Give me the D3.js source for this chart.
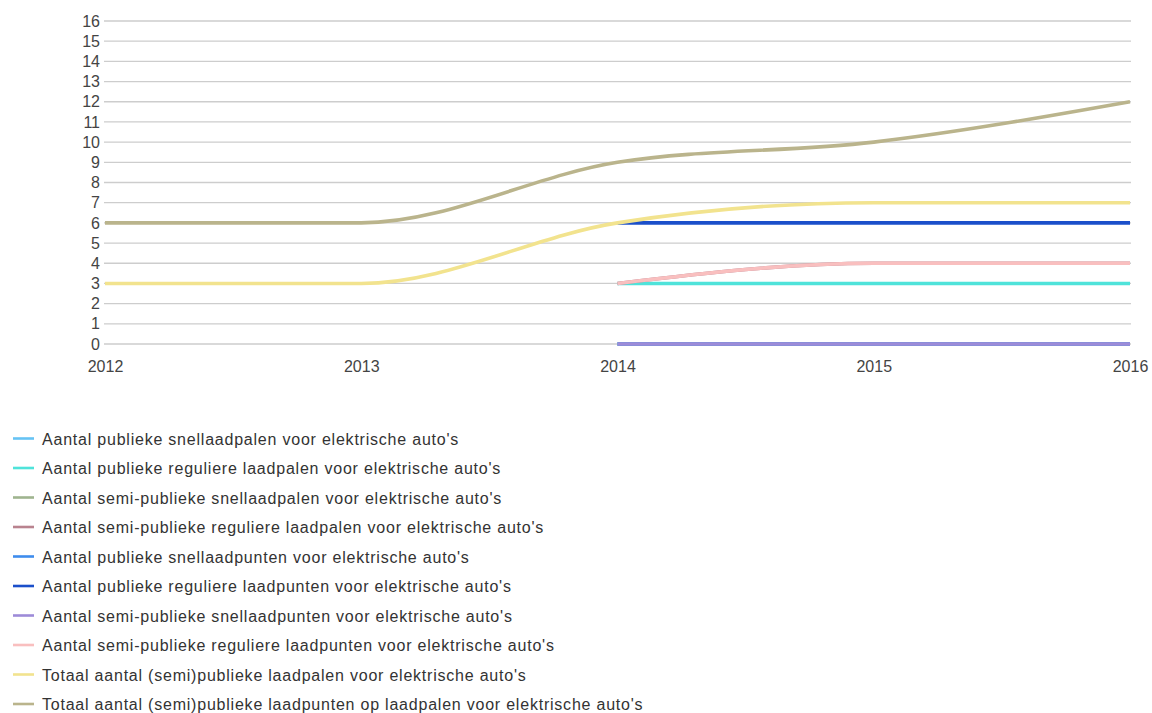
<!DOCTYPE html>
<html>
<head>
<meta charset="utf-8">
<script src="https://cdn.jsdelivr.net/npm/d3@7"></script>
<style>
  html, body { margin: 0; padding: 0; background: #ffffff; }
  svg text { font-family: "Liberation Sans", Arial, sans-serif; }
</style>
</head>
<body>
<svg id="chart" width="1152" height="713"></svg>
<script>
// Jaren op de x-as
const years = [2012, 2013, 2014, 2015, 2016];

// Reeksnamen (legenda)
const seriesNames = [
  "Aantal publieke snellaadpalen voor elektrische auto's",
  "Aantal publieke reguliere laadpalen voor elektrische auto's",
  "Aantal semi-publieke snellaadpalen voor elektrische auto's",
  "Aantal semi-publieke reguliere laadpalen voor elektrische auto's",
  "Aantal publieke snellaadpunten voor elektrische auto's",
  "Aantal publieke reguliere laadpunten voor elektrische auto's",
  "Aantal semi-publieke snellaadpunten voor elektrische auto's",
  "Aantal semi-publieke reguliere laadpunten voor elektrische auto's",
  "Totaal aantal (semi)publieke laadpalen voor elektrische auto's",
  "Totaal aantal (semi)publieke laadpunten op laadpalen voor elektrische auto's"
];

// Waarden per reeks (null = geen gegevens)
const publiekeSnellaadpalen          = [null, null, 0, 0, 0];
const publiekeReguliereLaadpalen     = [null, null, 3, 3, 3];
const semiPubliekeSnellaadpalen      = [null, null, 0, 0, 0];
const semiPubliekeReguliereLaadpalen = [null, null, 3, 4, 4];
const publiekeSnellaadpunten         = [null, null, 0, 0, 0];
const publiekeReguliereLaadpunten    = [null, null, 6, 6, 6];
const semiPubliekeSnellaadpunten     = [null, null, 0, 0, 0];
const semiPubliekeReguliereLaadpunten= [null, null, 3, 4, 4];
const totaalLaadpalen                = [3, 3, 6, 7, 7];
const totaalLaadpunten               = [6, 6, 9, 10, 12];

// Y-as ticks
const yTicks = [0,1,2,3,4,5,6,7,8,9,10,11,12,13,14,15,16];

const seriesValues = [
  publiekeSnellaadpalen, publiekeReguliereLaadpalen, semiPubliekeSnellaadpalen,
  semiPubliekeReguliereLaadpalen, publiekeSnellaadpunten, publiekeReguliereLaadpunten,
  semiPubliekeSnellaadpunten, semiPubliekeReguliereLaadpunten, totaalLaadpalen, totaalLaadpunten
];

const colors = [
  "#66c3f4", "#4fe3da", "#9fb48f", "#b9838f", "#3e8ced",
  "#1b4fca", "#9d8bd8", "#f9bfbf", "#f2e38e", "#bab48c"
];

const svg = d3.select("#chart");

const plot = { left: 105, right: 1130, top: 21, bottom: 344 };

const x = d3.scaleLinear().domain([2012, 2016]).range([plot.left, plot.right]);
const y = d3.scaleLinear().domain([0, 16]).range([plot.bottom, plot.top]);

// Rasterlijnen
svg.append("g")
  .selectAll("line")
  .data(yTicks)
  .join("line")
  .attr("x1", plot.left - 1)
  .attr("x2", plot.right + 1)
  .attr("y1", d => y(d))
  .attr("y2", d => y(d))
  .attr("stroke", "#cdcdcd")
  .attr("stroke-width", 1.3);

// Y-as labels
const yAxis = d3.axisLeft(y).tickValues(yTicks).tickSize(0).tickPadding(4).tickFormat(d3.format("d"));
const gy = svg.append("g").attr("transform", `translate(${plot.left - 1},0)`).call(yAxis);
gy.select(".domain").remove();
gy.selectAll("text").attr("fill", "#444444").style("font-size", "16px");

// X-as labels
const xAxis = d3.axisBottom(x).tickValues(years).tickSize(0).tickPadding(0).tickFormat(d3.format("d"));
const gx = svg.append("g").attr("transform", `translate(0,${plot.bottom + 17})`).call(xAxis);
gx.select(".domain").remove();
gx.selectAll("text").attr("fill", "#444444").style("font-size", "16px");

// Lijnen
const line = d3.line()
  .defined(d => d.v !== null)
  .x(d => x(d.year))
  .y(d => y(d.v))
  .curve(d3.curveMonotoneX);

const lines = svg.append("g");
seriesValues.forEach((vals, i) => {
  const pts = years.map((yr, j) => ({ year: yr, v: vals[j] }));
  lines.append("path")
    .datum(pts)
    .attr("d", line)
    .attr("fill", "none")
    .attr("stroke", colors[i])
    .attr("stroke-width", 3.6)
    .attr("stroke-linejoin", "round")
    .attr("stroke-linecap", "butt");
});

// Legenda
const legend = svg.append("g");
const legendTop = 438.5, legendStep = 29.5;
seriesNames.forEach((name, i) => {
  const ly = legendTop + i * legendStep;
  legend.append("line")
    .attr("x1", 13).attr("x2", 34)
    .attr("y1", ly).attr("y2", ly)
    .attr("stroke", colors[i])
    .attr("stroke-width", 2.6);
  legend.append("text")
    .attr("x", 42)
    .attr("y", ly + 6)
    .attr("fill", "#333333")
    .style("font-size", "16px")
    .style("letter-spacing", "0.78px")
    .text(name);
});
</script>
</body>
</html>
